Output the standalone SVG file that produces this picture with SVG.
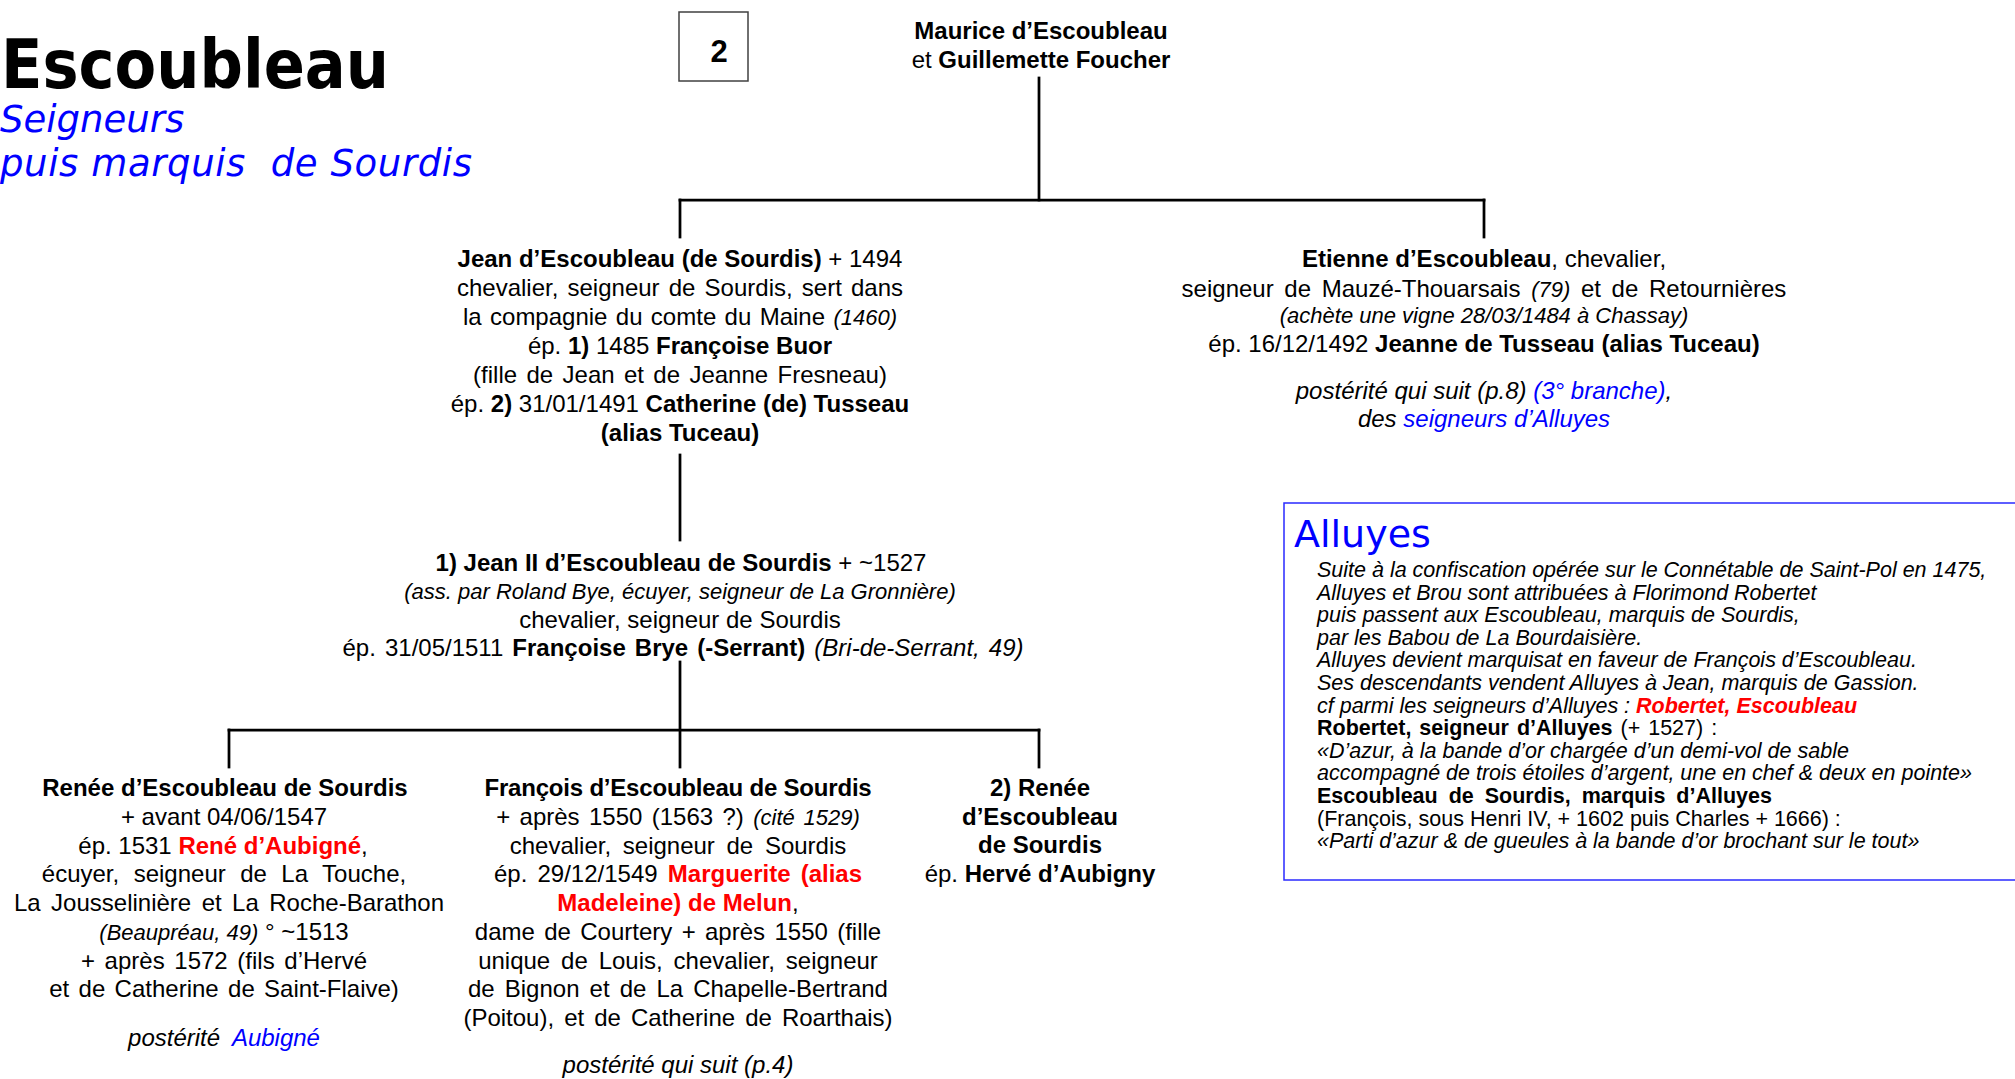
<svg xmlns="http://www.w3.org/2000/svg" width="2015" height="1079" viewBox="0 0 2015 1079">
<style>
.t{font-family:"Liberation Sans",Arial,sans-serif;font-size:24px;fill:#000;text-anchor:middle}
.l{text-anchor:start}
.b{font-weight:bold}
.i{font-style:italic}
.s{font-size:22px}
.blue{fill:#0000ff}
.red{fill:#ff0000}
.al{font-family:"Liberation Sans",Arial,sans-serif;font-size:21.5px;fill:#000}
.conn line{stroke:#000;stroke-width:2.75;stroke-linecap:square}
</style>
<rect x="0" y="0" width="2015" height="1079" fill="#ffffff"/>

<g id="title">
<text x="1" y="88" font-family="'DejaVu Sans',Verdana,sans-serif" font-weight="bold" font-size="68" textLength="388" lengthAdjust="spacingAndGlyphs" fill="#000">Escoubleau</text>
<text x="0" y="132" font-family="'DejaVu Sans',Verdana,sans-serif" font-style="italic" font-size="37" fill="#0000ff">Seigneurs</text>
<text x="0" y="176" font-family="'DejaVu Sans',Verdana,sans-serif" font-style="italic" font-size="37" fill="#0000ff" textLength="472" lengthAdjust="spacing" xml:space="preserve">puis marquis  de Sourdis</text>
</g>

<g id="page-number">
<rect x="679" y="12" width="69" height="69" fill="#fff" stroke="#404040" stroke-width="1.5"/>
<text class="t b" x="719" y="62" style="font-size:31px">2</text>
</g>

<g id="connectors" class="conn">
<line x1="1039" y1="78" x2="1039" y2="200"/>
<line x1="680" y1="200" x2="1484" y2="200"/>
<line x1="680" y1="200" x2="680" y2="237"/>
<line x1="1484" y1="200" x2="1484" y2="237"/>
<line x1="680" y1="455" x2="680" y2="540"/>
<line x1="680" y1="662" x2="680" y2="767"/>
<line x1="229" y1="730" x2="1039" y2="730"/>
<line x1="229" y1="730" x2="229" y2="767"/>
<line x1="1039" y1="730" x2="1039" y2="767"/>
</g>

<g id="maurice">
<text class="t b" x="1041" y="39">Maurice d’Escoubleau</text>
<text class="t" x="1041" y="68">et <tspan class="b">Guillemette Foucher</tspan></text>
</g>

<g id="jean">
<text class="t" x="680" y="267"><tspan class="b">Jean d’Escoubleau (de Sourdis)</tspan> + 1494</text>
<text class="t" x="680" y="296" word-spacing="2.5">chevalier, seigneur de Sourdis, sert dans</text>
<text class="t" x="680" y="325" word-spacing="1.7">la compagnie du comte du Maine <tspan class="i s">(1460)</tspan></text>
<text class="t" x="680" y="354">ép. <tspan class="b">1)</tspan> 1485 <tspan class="b">Françoise Buor</tspan></text>
<text class="t" x="680" y="383" word-spacing="2.7">(fille de Jean et de Jeanne Fresneau)</text>
<text class="t" x="680" y="412">ép. <tspan class="b">2)</tspan> 31/01/1491 <tspan class="b">Catherine (de) Tusseau</tspan></text>
<text class="t b" x="680" y="441">(alias Tuceau)</text>
</g>

<g id="etienne">
<text class="t" x="1484" y="267"><tspan class="b">Etienne d’Escoubleau</tspan>, chevalier,</text>
<text class="t" x="1484" y="297" word-spacing="4">seigneur de Mauzé-Thouarsais <tspan class="i s">(79)</tspan> et de Retournières</text>
<text class="t i s" x="1484" y="323">(achète une vigne 28/03/1484 à Chassay)</text>
<text class="t" x="1484" y="352">ép. 16/12/1492 <tspan class="b">Jeanne de Tusseau (alias Tuceau)</tspan></text>
<text class="t i" x="1484" y="399">postérité qui suit (p.8) <tspan class="blue">(3° branche)</tspan>,</text>
<text class="t i" x="1484" y="427">des <tspan class="blue">seigneurs d’Alluyes</tspan></text>
</g>

<g id="jean2">
<text class="t" x="681" y="571"><tspan class="b">1) Jean II d’Escoubleau de Sourdis</tspan> + ~1527</text>
<text class="t i s" x="680" y="599">(ass. par Roland Bye, écuyer, seigneur de La Gronnière)</text>
<text class="t" x="680" y="628">chevalier, seigneur de Sourdis</text>
<text class="t" x="683" y="656" word-spacing="2.4">ép. 31/05/1511 <tspan class="b">Françoise Brye (-Serrant)</tspan> <tspan class="i">(Bri-de-Serrant, 49)</tspan></text>
</g>

<g id="renee">
<text class="t b" x="225" y="796">Renée d’Escoubleau de Sourdis</text>
<text class="t" x="224" y="825">+ avant 04/06/1547</text>
<text class="t" x="223" y="854">ép. 1531 <tspan class="b red">René d’Aubigné</tspan>,</text>
<text class="t" x="224" y="882" word-spacing="7.8">écuyer, seigneur de La Touche,</text>
<text class="t" x="229" y="911" word-spacing="3.8">La Jousselinière et La Roche-Barathon</text>
<text class="t" x="224" y="940"><tspan class="i s">(Beaupréau, 49)</tspan>  °  ~1513</text>
<text class="t" x="224" y="969" word-spacing="3">+ après 1572 (fils d’Hervé</text>
<text class="t" x="224" y="997" word-spacing="2.7">et de Catherine de Saint-Flaive)</text>
<text class="t i" x="224" y="1046">postérité <tspan class="blue" dx="6">Aubigné</tspan></text>
</g>

<g id="francois">
<text class="t b" x="678" y="796" letter-spacing="-0.2">François d’Escoubleau de Sourdis</text>
<text class="t" x="678" y="825" word-spacing="2.7">+ après 1550 (1563 ?) <tspan class="i s">(cité 1529)</tspan></text>
<text class="t" x="678" y="854" word-spacing="5">chevalier, seigneur de Sourdis</text>
<text class="t" x="678" y="882" word-spacing="3.5">ép. 29/12/1549 <tspan class="b red">Marguerite (alias</tspan></text>
<text class="t" x="678" y="911"><tspan class="b red">Madeleine) de Melun</tspan>,</text>
<text class="t" x="678" y="940" word-spacing="2.7">dame de Courtery + après 1550 (fille</text>
<text class="t" x="678" y="969" word-spacing="4.2">unique de Louis, chevalier, seigneur</text>
<text class="t" x="678" y="997" word-spacing="3.4">de Bignon et de La Chapelle-Bertrand</text>
<text class="t" x="678" y="1026" word-spacing="3.4">(Poitou), et de Catherine de Roarthais)</text>
<text class="t i" x="678" y="1073">postérité qui suit (p.4)</text>
</g>

<g id="renee2">
<text class="t b" x="1040" y="796">2) Renée</text>
<text class="t b" x="1040" y="825">d’Escoubleau</text>
<text class="t b" x="1040" y="853">de Sourdis</text>
<text class="t" x="1040" y="882">ép. <tspan class="b">Hervé d’Aubigny</tspan></text>
</g>

<g id="alluyes">
<rect x="1284" y="503" width="740" height="377" fill="none" stroke="#2a2aff" stroke-width="1.5"/>
<text x="1294" y="547" font-family="'DejaVu Sans',Verdana,sans-serif" font-size="38" fill="#0000ff">Alluyes</text>
<text class="al i blue" x="1317" y="577">Suite à la confiscation opérée sur le Connétable de Saint-Pol en 1475,</text>
<text class="al i blue" x="1317" y="599.6">Alluyes et Brou sont attribuées à Florimond Robertet</text>
<text class="al i blue" x="1317" y="622.2">puis passent aux Escoubleau, marquis de Sourdis,</text>
<text class="al i blue" x="1317" y="644.8">par les Babou de La Bourdaisière.</text>
<text class="al i blue" x="1317" y="667.4">Alluyes devient marquisat en faveur de François d’Escoubleau.</text>
<text class="al i blue" x="1317" y="690">Ses descendants vendent Alluyes à Jean, marquis de Gassion.</text>
<text class="al i blue" x="1317" y="712.6">cf parmi les seigneurs d’Alluyes : <tspan class="b red">Robertet, Escoubleau</tspan></text>
<text class="al" x="1317" y="735.2" word-spacing="2"><tspan class="b">Robertet, seigneur d’Alluyes</tspan> (+ 1527) :</text>
<text class="al i" x="1317" y="757.8">«D’azur, à la bande d’or chargée d’un demi-vol de sable</text>
<text class="al i" x="1317" y="780.4">accompagné de trois étoiles d’argent, une en chef &amp; deux en pointe»</text>
<text class="al b" x="1317" y="803" word-spacing="5">Escoubleau de Sourdis, marquis d’Alluyes</text>
<text class="al" x="1317" y="825.6">(François, sous Henri IV, + 1602 puis Charles + 1666) :</text>
<text class="al i" x="1317" y="848.2">«Parti d’azur &amp; de gueules à la bande d’or brochant sur le tout»</text>
</g>
</svg>
